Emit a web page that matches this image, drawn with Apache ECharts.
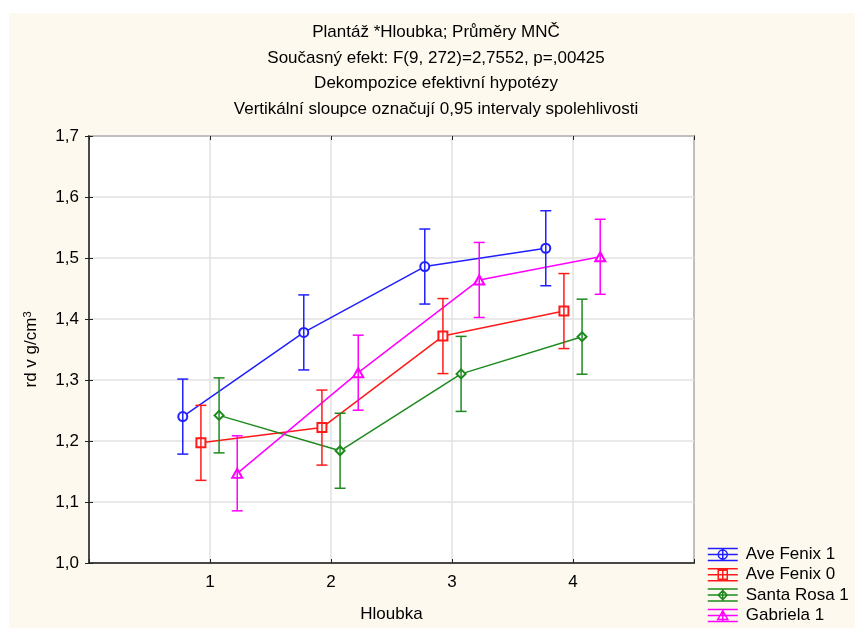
<!DOCTYPE html>
<html>
<head>
<meta charset="utf-8">
<script src="https://cdn.jsdelivr.net/npm/echarts@6/dist/echarts.min.js"></script>
<style>
  html, body { margin: 0; padding: 0; background: #fff; }
  #chart { width: 855px; height: 628px; }
</style>
</head>
<body>
<div id="chart"></div>
<script>
// kategorie (Hloubka) a průměry MNČ pro jednotlivé plantáže
var categories = [1, 2, 3, 4];
var seriesNames = ['Ave Fenix 1', 'Ave Fenix 0', 'Santa Rosa 1', 'Gabriela 1'];
var aveFenix1 = [1.240, 1.378, 1.486, 1.516];
var aveFenix0 = [1.197, 1.222, 1.372, 1.413];
var santaRosa1 = [1.242, 1.184, 1.310, 1.371];
var gabriela1 = [1.147, 1.312, 1.464, 1.502];
// polovina 0,95 intervalu spolehlivosti
var ciHalf = [0.0615, 0.0615, 0.0615, 0.0615];

var colors = ['#1f1fff', '#ff1a1a', '#1e8a1e', '#ff00ff'];
var symbols = ['emptyCircle', 'emptyRect', 'emptyDiamond', 'emptyTriangle'];
var symbolSizes = [9, 9, 9, [10, 9]];
var dodge = [-0.225, -0.075, 0.075, 0.225];
var means = [aveFenix1, aveFenix0, santaRosa1, gabriela1];

var FONT = '"Liberation Sans", Arial, sans-serif';

// ikony legendy: vodorovné čáry + svislá čára + značka
var iconBase = 'M0,0L30,0M0,12L30,12M0,6L30,6M15,0L15,12';
var iconMarks = [
    'M19.5,6A4.5,4.5,0,1,1,10.5,6A4.5,4.5,0,1,1,19.5,6Z',
    'M10.5,1.5L19.5,1.5L19.5,10.5L10.5,10.5Z',
    'M15,1.5L19.5,6L15,10.5L10.5,6Z',
    'M15,1.5L20,10L10,10Z'
];

var series = [];
var legendData = [];
for (var s = 0; s < seriesNames.length; s++) {
    var pts = [], bars = [];
    for (var i = 0; i < categories.length; i++) {
        var x = categories[i] + dodge[s];
        pts.push([x, means[s][i]]);
        bars.push([x, means[s][i] - ciHalf[i], means[s][i] + ciHalf[i]]);
    }
    series.push({
        name: seriesNames[s],
        type: 'line',
        data: pts,
        symbol: symbols[s],
        symbolSize: symbolSizes[s],
        itemStyle: { color: colors[s], borderWidth: 1.5 },
        lineStyle: { color: colors[s], width: 1.5 },
        z: 2
    });
    series.push({
        name: 'ci' + s,
        type: 'custom',
        data: bars,
        z: 3,
        renderItem: (function (col) {
            return function (params, api) {
                var top = api.coord([api.value(0), api.value(2)]);
                var bot = api.coord([api.value(0), api.value(1)]);
                var w = 5.5;
                var st = { stroke: col, lineWidth: 1.5 };
                return {
                    type: 'group',
                    children: [
                        { type: 'line', shape: { x1: top[0], y1: top[1], x2: bot[0], y2: bot[1] }, style: st },
                        { type: 'line', shape: { x1: top[0] - w, y1: top[1], x2: top[0] + w, y2: top[1] }, style: st },
                        { type: 'line', shape: { x1: bot[0] - w, y1: bot[1], x2: bot[0] + w, y2: bot[1] }, style: st }
                    ]
                };
            };
        })(colors[s])
    });
    legendData.push({
        name: seriesNames[s],
        icon: 'path://' + iconBase + iconMarks[s],
        itemStyle: { color: 'rgba(0,0,0,0)', borderColor: colors[s], borderWidth: 1.5 }
    });
}

var chart = echarts.init(document.getElementById('chart'));
chart.setOption({
    backgroundColor: '#ffffff',
    animation: false,
    textStyle: { fontFamily: FONT },
    graphic: [{
        type: 'rect',
        z: -10,
        silent: true,
        shape: { x: 9, y: 13, width: 846, height: 615 },
        style: { fill: '#fef9ee' }
    }],
    title: {
        text: 'Plantáž *Hloubka; Průměry MNČ\nSoučasný efekt: F(9, 272)=2,7552, p=,00425\nDekompozice efektivní hypotézy\nVertikální sloupce označují 0,95 intervaly spolehlivosti',
        left: 436,
        top: 20,
        padding: 0,
        textAlign: 'center',
        textStyle: { fontFamily: FONT, fontSize: 17, fontWeight: 'normal', color: '#000', lineHeight: 25.5 }
    },
    legend: {
        orient: 'vertical',
        left: 707,
        top: 546,
        padding: 0,
        itemWidth: 30,
        itemHeight: 12,
        itemGap: 3.3,
        data: legendData,
        textStyle: { fontFamily: FONT, fontSize: 17, color: '#000', padding: [0, 0, 0, 3] }
    },
    grid: {
        left: 89, top: 136, right: 161, bottom: 65,
        show: true,
        backgroundColor: '#ffffff',
        borderColor: '#222',
        borderWidth: 1.5
    },
    xAxis: [{
        type: 'value',
        min: 0, max: 5, interval: 1,
        name: 'Hloubka',
        nameLocation: 'middle',
        nameGap: 43,
        nameTextStyle: { fontFamily: FONT, fontSize: 17, color: '#000' },
        axisLine: { show: true, onZero: false, lineStyle: { color: '#222', width: 1.5 } },
        axisTick: { show: true, inside: true, length: 4, lineStyle: { color: '#222' } },
        axisLabel: {
            fontFamily: FONT, fontSize: 17, color: '#000', margin: 11,
            formatter: function (v) { return categories.indexOf(v) >= 0 ? String(v) : ''; }
        },
        splitLine: { show: true, lineStyle: { color: '#e2e2e2', width: 1.5 } }
    }, {
        type: 'value',
        position: 'top',
        min: 0, max: 5, interval: 1,
        axisLine: { show: false },
        axisTick: { show: true, inside: true, length: 4, lineStyle: { color: '#222' } },
        axisLabel: { show: false },
        splitLine: { show: false }
    }],
    yAxis: [{
        type: 'value',
        min: 1.0, max: 1.7, interval: 0.1,
        name: 'rd v g/cm{sup|3}',
        nameLocation: 'middle',
        nameGap: 48,
        nameRotate: 90,
        nameTextStyle: {
            fontFamily: FONT, fontSize: 17, color: '#000',
            rich: { sup: { fontFamily: FONT, fontSize: 11, color: '#000', verticalAlign: 'top', padding: [0, 0, 8, 0] } }
        },
        axisLine: { show: true, lineStyle: { color: '#222', width: 1.5 } },
        axisTick: { show: true, inside: true, length: 4, lineStyle: { color: '#222' } },
        axisLabel: {
            fontFamily: FONT, fontSize: 17, color: '#000', margin: 10,
            formatter: function (v) { return v.toFixed(1).replace('.', ','); }
        },
        splitLine: { show: true, lineStyle: { color: '#e2e2e2', width: 1.5 } }
    }, {
        type: 'value',
        position: 'right',
        min: 1.0, max: 1.7, interval: 0.1,
        axisLine: { show: false },
        axisTick: { show: true, inside: true, length: 4, lineStyle: { color: '#222' } },
        axisLabel: { show: false },
        splitLine: { show: false }
    }],
    series: series
});
</script>
</body>
</html>
